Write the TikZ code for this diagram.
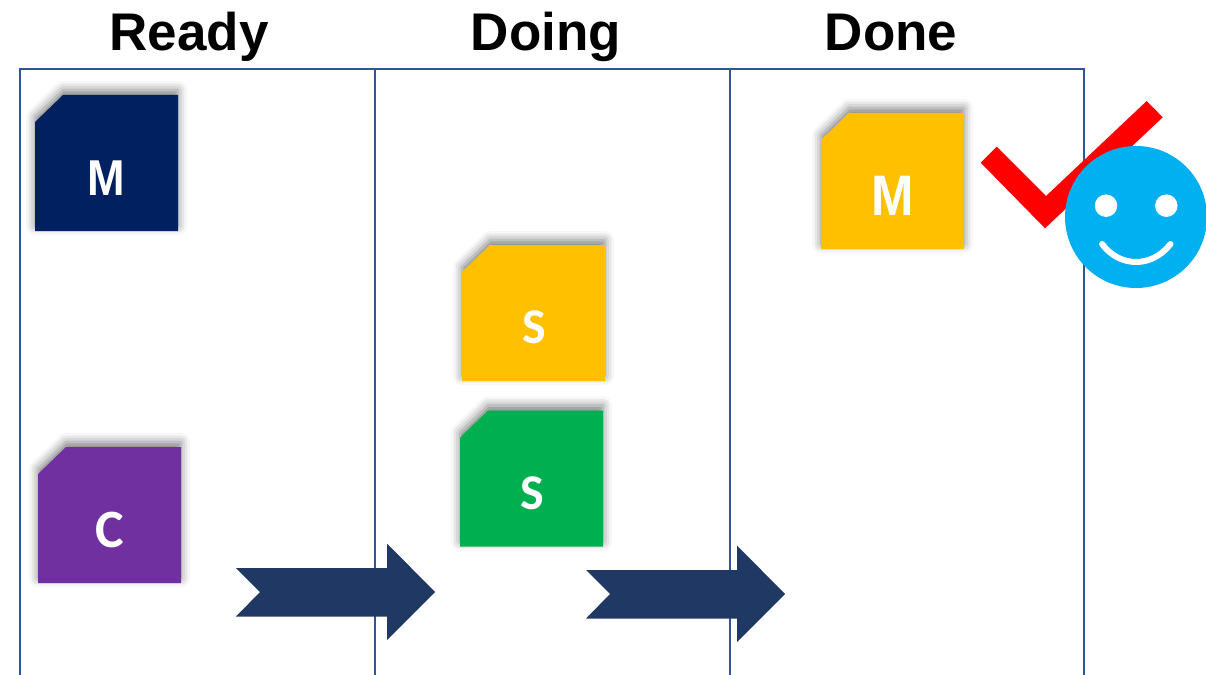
\documentclass[tikz,border=0pt]{standalone}
\usepackage{fontspec}
\setmainfont{Liberation Sans}
\newfontfamily\cardfont{Carlito}
\usetikzlibrary{shadows.blur}
\definecolor{gridblue}{HTML}{2F5597}
\definecolor{arrownavy}{HTML}{1F3864}
\definecolor{cardnavy}{HTML}{002060}
\definecolor{cardyellow}{HTML}{FFC000}
\definecolor{cardgreen}{HTML}{00B050}
\definecolor{cardpurple}{HTML}{7030A0}
\definecolor{facecyan}{HTML}{00B0F0}
\tikzset{
  heading/.style={font=\fontsize{53}{56}\selectfont\bfseries,anchor=base},
  cardshadow/.style={blur shadow={shadow xshift=0pt,shadow yshift=5pt,shadow blur radius=9pt,shadow opacity=50}},
  cardtext/.style={text=white,inner sep=0pt,font=\cardfont\fontsize{#1}{#1}\selectfont\bfseries},
  cardletter/.style={text=white,inner sep=0pt,yscale=1.12,transform shape,font=\fontsize{#1}{#1}\selectfont\bfseries},
  pics/card/.style={code={\path[fill=#1,cardshadow] (0,27)--(28,0)--(143,0)--(143,136)--(0,136)--cycle;}},
  stagearrow/.pic={\fill[arrownavy] (0,0)--(24,24)--(0,48.5)--(151,48.5)--(151,72)--(199,24)--(151,-24.5)--(151,0)--cycle;},
  eye/.style={circle,fill=white,minimum size=22.5pt,inner sep=0pt}
}
\begin{document}
\begin{tikzpicture}[x=1pt,y=-1pt]
\useasboundingbox (0,0) rectangle (1206,674);
% board
\draw[gridblue,line width=1.1pt] (20,675)--(20,69)--(1084,69)--(1084,675);
\foreach \x in {375,730}
  \draw[gridblue,line width=1.1pt] (\x,69)--(\x,675);
% headings
\node[heading] (ready) at (189,51) {Ready};
\node[heading] (doing) at (546,51) {Doing};
\node[heading] (done) at (891,51) {Done};
% cards
\pic at (35,95) {card=cardnavy};
\pic at (38,447) {card=cardpurple};
\pic at (462,245) {card=cardyellow};
\pic at (460,410.5) {card=cardgreen};
\pic at (821,113) {card=cardyellow};
\node[cardletter=45] (mready) at (106,178) {M};
\node[cardtext=54] (cready) at (110,530) {C};
\node[cardtext=50] (sdoing) at (534,327) {S};
\node[cardtext=50] (sdoingb) at (532,493) {S};
\node[cardletter=51] (mdone) at (893,196) {M};
% arrows
\pic at (236,568) {stagearrow};
\pic at (586,570) {stagearrow};
% tick and face
\fill[red] (980.7,162.7)--(996.7,146.7)--(1046,196)--(1146.7,101)--(1162.7,117.3)--(1045,228.3)--cycle;
\node[circle,fill=facecyan,minimum size=142pt,inner sep=0pt] (face) at (1136,217) {};
\node[eye] (lefteye) at (1106,205.7) {};
\node[eye] (righteye) at (1166.3,205.7) {};
\draw[white,line width=6pt,line cap=round] (1102,244) .. controls (1120,268) and (1152,268) .. (1170.5,244);
\end{tikzpicture}
\end{document}
